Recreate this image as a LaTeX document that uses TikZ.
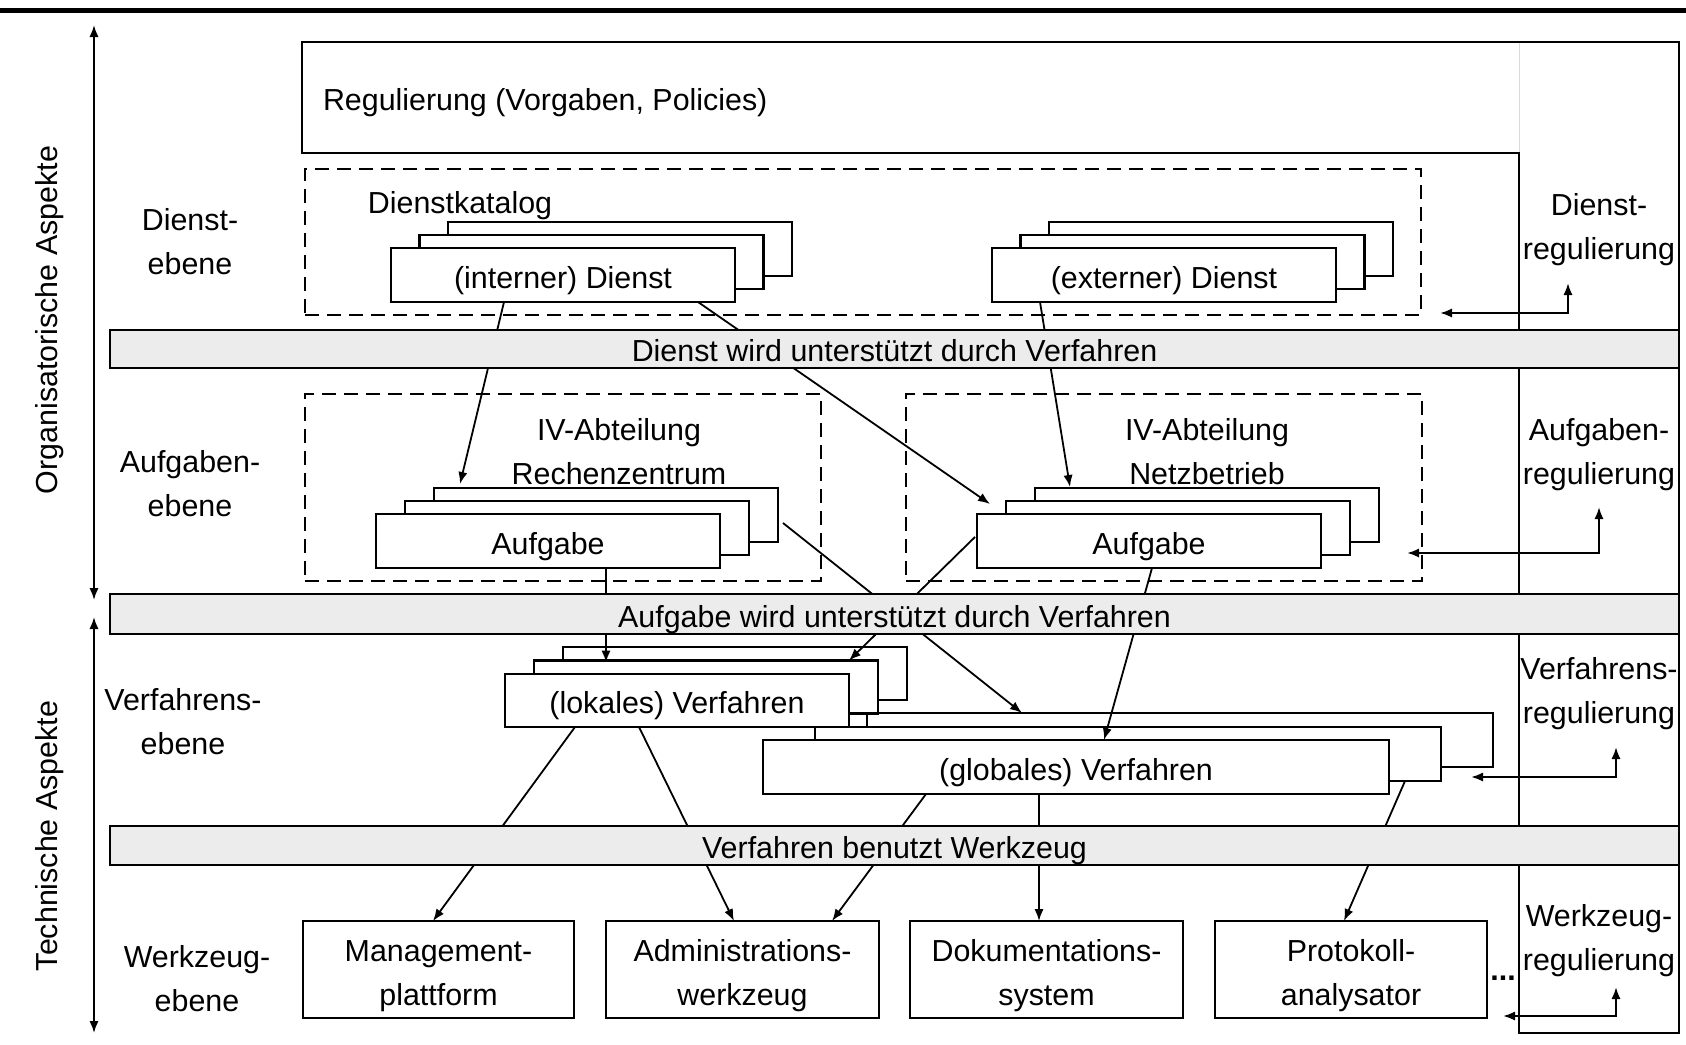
\documentclass[tikz,border=0pt]{standalone}
\usepackage{fontspec}
\setmainfont{Liberation Sans}
\usetikzlibrary{arrows.meta,calc}
\tikzset{headtip/.tip={Latex[length=6pt,width=4.6pt]}}

\begin{document}
\begin{tikzpicture}[x=0.5pt,y=-0.5pt,
  every node/.style={font=\fontsize{15.2}{22}\selectfont, inner sep=0pt, outer sep=0pt},
  box/.style={draw, fill=white, line width=1.3pt, anchor=north west},
  lowtext/.style={text height=13.2pt, text depth=0pt},
  svcbox/.style={box, lowtext, minimum width=172pt, minimum height=27pt},
  taskbox/.style={box, lowtext, minimum width=172pt, minimum height=27pt},
  locbox/.style={box, lowtext, minimum width=172pt, minimum height=26.5pt},
  globbox/.style={box, lowtext, minimum width=313pt, minimum height=27pt},
  toolbox/.style={box, minimum height=48.5pt},
  group/.style={draw, dash pattern=on 7pt off 4pt, line width=1.1pt, anchor=north west},
  band/.style={draw, fill=gray!15, line width=1.3pt, anchor=north west, minimum width=784.5pt},
  arr/.style={line width=0.9pt, -{headtip}},
  fb/.style={line width=1.1pt, {headtip}-{headtip}},
  axis/.style={line width=0.9pt, {headtip}-{headtip}},
  lbl/.style={align=center}
]
\useasboundingbox (0,0) rectangle (1686,1044);

% heading rule
\draw[line width=2.5pt] (0,10) -- (1686,10);

% regulation frame with the right-hand column
\draw[gray!30, line width=0.4pt] (1519,42) -- (1519,153);
\draw[line width=1.3pt] (302,42) -- (1679,42) -- (1679,1033) -- (1519,1033)
  -- (1519,153) -- (302,153) -- cycle;
\node[anchor=base west] (regt) at (323,110) {Regulierung (Vorgaben, Policies)};

% dashed groups
\node[group, minimum width=558pt, minimum height=73pt] (dkat) at (305,169) {};
\node[anchor=base] (dkatt) at (460,213) {Dienstkatalog};
\node[group, minimum width=258pt, minimum height=93.5pt] (rz) at (305,394) {};
\node[lbl] (rzt) at (619,452) {IV-Abteilung\\Rechenzentrum};
\node[group, minimum width=258pt, minimum height=93.5pt] (nb) at (906,394) {};
\node[lbl] (nbt) at (1207,452) {IV-Abteilung\\Netzbetrieb};

% services
\node[svcbox] (idC) at (448,222) {};
\node[svcbox] (idB) at (419.5,235) {};
\node[svcbox] (idA) at (391,248) {(interner) Dienst};
\node[svcbox] (edC) at (1049,222) {};
\node[svcbox] (edB) at (1020.5,235) {};
\node[svcbox] (edA) at (992,248) {(externer) Dienst};

% tasks
\node[taskbox] (rzC) at (434,488) {};
\node[taskbox] (rzB) at (405,501) {};
\node[taskbox] (rzA) at (376,514) {Aufgabe};
\node[taskbox] (nbC) at (1035,488) {};
\node[taskbox] (nbB) at (1006,501) {};
\node[taskbox] (nbA) at (977,514) {Aufgabe};

% procedures
\node[globbox] (gvC) at (867,713) {};
\node[globbox] (gvB) at (815,727) {};
\node[globbox] (gvA) at (763,740) {(globales) Verfahren};
\node[locbox] (lvC) at (563,647) {};
\node[locbox] (lvB) at (534,660.5) {};
\node[locbox] (lvA) at (505,674) {(lokales) Verfahren};

% tools
\node[toolbox, minimum width=135.5pt] (mgmt) at (303,921) {};
\node[toolbox, minimum width=136.5pt] (admin) at (606,921) {};
\node[toolbox, minimum width=136.5pt] (doku) at (910,921) {};
\node[toolbox, minimum width=136pt] (proto) at (1215,921) {};
\node[lbl] (mgmtt) at ($(mgmt.center)+(0,6.5)$) {Management-\\plattform};
\node[lbl] (admint) at ($(admin.center)+(0,6.5)$) {Administrations-\\werkzeug};
\node[lbl] (dokut) at ($(doku.center)+(0,6.5)$) {Dokumentations-\\system};
\node[lbl] (protot) at ($(proto.center)+(0,6.5)$) {Protokoll-\\analysator};
\node (dots) at (1503,978) {\textbf{...}};

% support relations
\draw[arr] ($(idA.south west)+(113,0)$) -- ($(rzC.north west)+(26,-4)$);
\draw[arr] ($(idA.south west)+(307,0)$) -- ($(nbA.north west)+(13,-10)$);
\draw[arr] ($(edA.south west)+(48,0)$) -- ($(nbC.north west)+(35,-1)$);
\draw[arr] ($(rzA.south west)+(230,0)$) -- ($(lvB.north west)+(72,2)$);
\draw[arr] ($(nbA.south west)+(-2,-31)$) -- ($(lvB.north east)+(-29,0)$);
\draw[arr] ($(rzC.south east)+(5,-19)$) -- ($(gvC.north west)+(155,0)$);
\draw[arr] ($(nbA.south west)+(175,0)$) -- ($(gvA.north west)+(341,0)$);
\draw[arr] ($(lvA.south west)+(70,0)$) -- ($(mgmt.north west)+(130,0)$);
\draw[arr] ($(lvA.south west)+(134,0)$) -- ($(admin.north west)+(128,0)$);
\draw[arr] ($(gvA.south west)+(163,0)$) -- ($(admin.north west)+(226,0)$);
\draw[arr] ($(gvA.south west)+(276,0)$) -- ($(doku.north west)+(129,0)$);
\draw[arr] ($(gvB.south west)+(590,0)$) -- ($(proto.north west)+(129,0)$);

% relation bands
\node[band, minimum height=19pt] (b1) at (110,330) {};
\node[anchor=base] (b1t) at (894.5,361.5) {Dienst wird unterstützt durch Verfahren};
\node[band, minimum height=20pt] (b2) at (110,594) {};
\node[anchor=base] (b2t) at (894.5,627.5) {Aufgabe wird unterstützt durch Verfahren};
\node[band, minimum height=19.5pt] (b3) at (110,826) {};
\node[anchor=base] (b3t) at (894.5,858.5) {Verfahren benutzt Werkzeug};

% regulation per level
\node[lbl] (dreg) at (1599,230) {Dienst-\\regulierung};
\node[lbl] (areg) at (1599,455) {Aufgaben-\\regulierung};
\node[lbl] (vreg) at (1599,694) {Verfahrens-\\regulierung};
\node[lbl] (wreg) at (1599,941) {Werkzeug-\\regulierung};
\coordinate (f1) at (1568,283);
\coordinate (f2) at (1599,507);
\coordinate (f3) at (1616,747);
\coordinate (f4) at (1616,987);
\draw[fb] ($(dkat.south east)+(19,-2)$) -| (f1);
\draw[fb] ($(nb.south east)+(-15,-28)$) -| (f2);
\draw[fb] ($(gvB.south east)+(30,-4)$) -| (f3);
\draw[fb] ($(proto.south east)+(16,-2)$) -| (f4);

% level names
\node[lbl] (dl) at (190,242) {Dienst-\\ebene};
\node[lbl] (al) at (190,484) {Aufgaben-\\ebene};
\node[lbl] (vl) at (183,722) {Verfahrens-\\ebene};
\node[lbl] (wl) at (197,979) {Werkzeug-\\ebene};

% aspect axes
\coordinate (oTop) at (94,25);
\coordinate (oBot) at (94,600);
\coordinate (tTop) at (94,617);
\coordinate (tBot) at (94,1033);
\draw[axis] (oBot) -- (oTop);
\draw[axis] (tTop) -- (tBot);
\node[rotate=90] (orgA) at (50,320) {Organisatorische Aspekte};
\node[rotate=90] (techA) at (50,836) {Technische Aspekte};
\end{tikzpicture}
\end{document}
